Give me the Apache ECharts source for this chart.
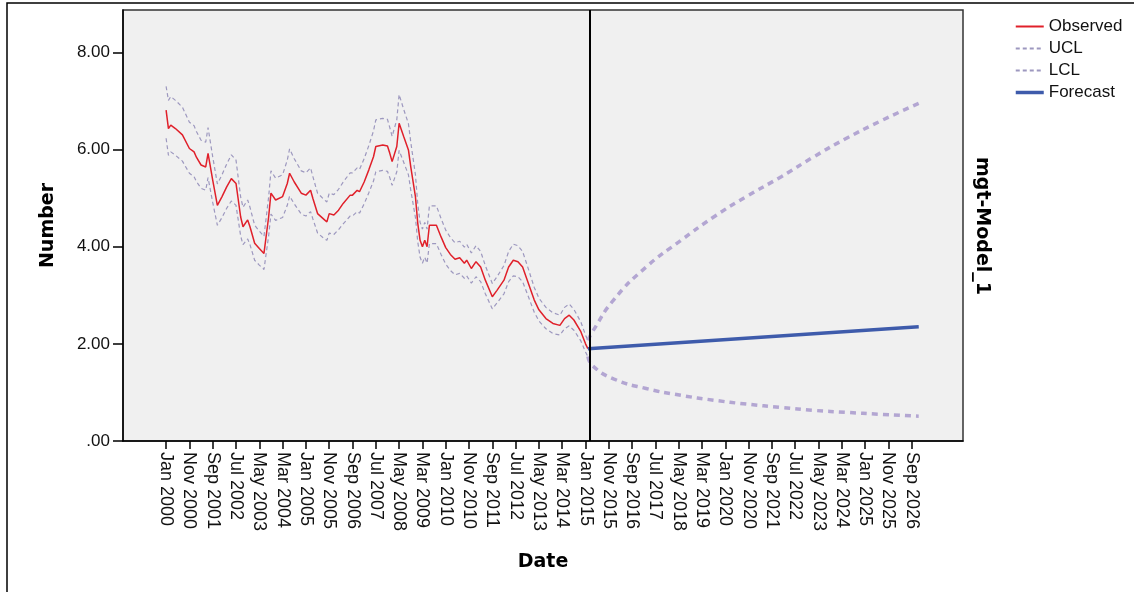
<!DOCTYPE html>
<html>
<head>
<meta charset="utf-8">
<script src="https://cdn.jsdelivr.net/npm/echarts@6/dist/echarts.min.js"></script>
<style>
  html, body { margin: 0; padding: 0; background: #fff; }
  #main { width: 1134px; height: 592px; }
</style>
</head>
<body>
<div id="main"></div>
<script>
// months counted from Jan 2000 (0 = Jan 2000)
var obsMonths = [0, 1, 2, 4, 7, 10, 12, 13, 15, 17, 18, 20, 22, 24, 26, 28, 30, 32, 33, 35, 36, 38, 40, 42, 44, 45, 47, 50, 52, 53, 55, 58,
  60, 62, 63, 65, 68, 69, 70, 72, 74, 76, 79, 80, 82, 83, 85, 87, 89, 90, 93, 95, 96, 97, 99, 100, 102, 104, 105, 107, 108, 109,
  110, 111, 112, 113, 116, 118, 120, 122, 124, 126, 128, 129, 131, 133, 135, 137, 140, 142, 145, 147, 149, 151, 153, 155, 158,
  160, 163, 166, 169, 171, 173, 175, 178, 180, 181];
var obsValues = [6.81, 6.43, 6.50, 6.43, 6.30, 6.02, 5.95, 5.84, 5.68, 5.64, 5.92, 5.37, 4.85, 5.03, 5.23, 5.40, 5.30, 4.61, 4.41, 4.55, 4.41, 4.07, 3.96, 3.86, 4.61, 5.10, 4.96, 5.03, 5.30, 5.51, 5.33, 5.10,
  5.06, 5.16, 4.99, 4.68, 4.55, 4.51, 4.68, 4.65, 4.75, 4.89, 5.06, 5.06, 5.16, 5.13, 5.33, 5.58, 5.85, 6.06, 6.09, 6.07, 5.92, 5.75, 6.06, 6.54, 6.26, 5.99, 5.64, 5.03, 4.48, 4.13,
  4.00, 4.13, 4.00, 4.44, 4.44, 4.20, 3.98, 3.84, 3.74, 3.77, 3.66, 3.72, 3.55, 3.69, 3.58, 3.31, 2.97, 3.10, 3.31, 3.58, 3.72, 3.69, 3.58, 3.31, 2.90,
  2.70, 2.52, 2.42, 2.38, 2.52, 2.59, 2.49, 2.25, 2.00, 1.90];
var uclValues = [7.30, 7.01, 7.09, 7.01, 6.87, 6.56, 6.49, 6.37, 6.19, 6.15, 6.45, 5.85, 5.29, 5.48, 5.70, 5.89, 5.78, 5.02, 4.81, 4.96, 4.81, 4.44, 4.32, 4.21, 5.02, 5.56, 5.41, 5.48, 5.78, 6.01, 5.81, 5.56,
  5.52, 5.62, 5.44, 5.10, 4.96, 4.92, 5.10, 5.07, 5.18, 5.33, 5.52, 5.52, 5.62, 5.59, 5.81, 6.08, 6.38, 6.61, 6.64, 6.62, 6.45, 6.27, 6.61, 7.13, 6.82, 6.53, 6.15, 5.48, 4.88, 4.50,
  4.36, 4.50, 4.36, 4.84, 4.84, 4.58, 4.34, 4.19, 4.08, 4.11, 3.99, 4.05, 3.87, 4.02, 3.90, 3.61, 3.24, 3.38, 3.61, 3.90, 4.05, 4.02, 3.90, 3.61, 3.16,
  2.94, 2.75, 2.64, 2.59, 2.75, 2.82, 2.71, 2.45, 2.18, 2.07];
var lclValues = [6.23, 5.88, 5.95, 5.88, 5.76, 5.51, 5.44, 5.34, 5.20, 5.16, 5.42, 4.91, 4.44, 4.60, 4.79, 4.94, 4.85, 4.22, 4.04, 4.16, 4.04, 3.72, 3.62, 3.53, 4.22, 4.67, 4.54, 4.60, 4.85, 5.04, 4.88, 4.67,
  4.63, 4.72, 4.57, 4.28, 4.16, 4.13, 4.28, 4.25, 4.35, 4.47, 4.63, 4.63, 4.72, 4.69, 4.88, 5.11, 5.35, 5.54, 5.57, 5.55, 5.42, 5.26, 5.54, 5.98, 5.73, 5.48, 5.16, 4.60, 4.10, 3.78,
  3.66, 3.78, 3.66, 4.06, 4.06, 3.84, 3.64, 3.51, 3.42, 3.45, 3.35, 3.40, 3.25, 3.38, 3.28, 3.03, 2.72, 2.84, 3.03, 3.28, 3.40, 3.38, 3.28, 3.03, 2.65,
  2.47, 2.31, 2.21, 2.18, 2.31, 2.37, 2.28, 2.06, 1.83, 1.74];

var fcMonths = [181, 323];
var fcValues = [1.90, 2.35];

var bandMonths = [181, 183, 192, 206, 221, 235, 249, 264, 278, 292, 306, 323];
var uclForecast = [2.07, 2.25, 2.90, 3.58, 4.13, 4.61, 5.03, 5.44, 5.85, 6.23, 6.57, 6.95];
var lclForecast = [1.74, 1.55, 1.28, 1.08, 0.94, 0.84, 0.76, 0.69, 0.63, 0.59, 0.55, 0.51];

var tickMonths = [];
for (var t = 0; t <= 320; t += 10) tickMonths.push(t);
var yTicks = [0, 2, 4, 6, 8];
var monthNames = ['Jan', 'Feb', 'Mar', 'Apr', 'May', 'Jun', 'Jul', 'Aug', 'Sep', 'Oct', 'Nov', 'Dec'];

function pairs(xs, ys) {
  var out = [];
  for (var i = 0; i < xs.length; i++) out.push([xs[i], ys[i]]);
  return out;
}

var chart = echarts.init(document.getElementById('main'));
var font = 'Liberation Sans, Arial, sans-serif';

chart.setOption({
  animation: false,
  backgroundColor: '#fff',
  graphic: [
    { type: 'rect', shape: { x: 7, y: 3, width: 1140, height: 600 },
      style: { fill: 'none', stroke: '#000', lineWidth: 1.5 }, z: -1 },
    { type: 'text', x: 982, y: 226, rotation: -Math.PI / 2,
      style: { text: 'mgt-Model_1', font: 'bold 19px DejaVu Sans', fill: '#000',
               align: 'center', verticalAlign: 'middle' } }
  ],
  legend: {
    data: [
      { name: 'Observed' },
      { name: 'UCL' },
      { name: 'LCL' },
      { name: 'Forecast', lineStyle: { width: 3.5 } }
    ],
    orient: 'vertical',
    left: 1009, top: 13,
    itemWidth: 28, itemHeight: 14, itemGap: 5,
    itemStyle: { opacity: 0 },
    textStyle: { fontFamily: font, fontSize: 17, color: '#111' }
  },
  grid: {
    left: 123, top: 10, width: 840, height: 431,
    show: true, backgroundColor: '#f0f0f0', borderColor: '#333', borderWidth: 1.5
  },
  xAxis: {
    type: 'value', min: -18.5, max: 342,
    name: 'Date', nameLocation: 'middle', nameGap: 112,
    nameTextStyle: { fontFamily: 'DejaVu Sans', fontWeight: 'bold', fontSize: 19, color: '#000' },
    axisLine: { show: true, onZero: false, lineStyle: { color: '#000', width: 1.5 } },
    axisTick: { show: true, customValues: tickMonths, length: 8, lineStyle: { color: '#000', width: 1.5 } },
    axisLabel: {
      customValues: tickMonths, rotate: -90, margin: 11,
      fontFamily: font, fontSize: 18, color: '#111',
      formatter: function (v) {
        return monthNames[v % 12] + ' ' + (2000 + Math.floor(v / 12));
      }
    },
    splitLine: { show: false }
  },
  yAxis: {
    type: 'value', min: 0, max: 8.87,
    name: 'Number', nameLocation: 'middle', nameGap: 65,
    nameTextStyle: { fontFamily: 'DejaVu Sans', fontWeight: 'bold', fontSize: 19, color: '#000' },
    axisLine: { show: true, onZero: false, lineStyle: { color: '#000', width: 1.5 } },
    axisTick: { show: true, customValues: yTicks, length: 10, lineStyle: { color: '#000', width: 1.5 } },
    axisLabel: {
      customValues: yTicks, margin: 13,
      fontFamily: font, fontSize: 17, color: '#111',
      formatter: function (v) { return v === 0 ? '.00' : v.toFixed(2); }
    },
    splitLine: { show: false }
  },
  series: [
    { name: 'UCL', type: 'line', data: pairs(obsMonths, uclValues), symbol: 'none',
      lineStyle: { color: '#9d98bf', width: 1.2, type: [4, 3] }, itemStyle: { color: '#9d98bf' } },
    { name: 'LCL', type: 'line', data: pairs(obsMonths, lclValues), symbol: 'none',
      lineStyle: { color: '#9d98bf', width: 1.2, type: [4, 3] }, itemStyle: { color: '#9d98bf' } },
    { name: 'UCL forecast', type: 'line', data: pairs(bandMonths, uclForecast), symbol: 'none', smooth: true,
      lineStyle: { color: '#b3a6d2', width: 3.5, type: [6, 5] } },
    { name: 'LCL forecast', type: 'line', data: pairs(bandMonths, lclForecast), symbol: 'none', smooth: true,
      lineStyle: { color: '#b3a6d2', width: 3.5, type: [6, 5] } },
    { name: 'Observed', type: 'line', data: pairs(obsMonths, obsValues), symbol: 'none',
      lineStyle: { color: '#e0202a', width: 1.5 }, itemStyle: { color: '#e0202a' } },
    { name: 'Forecast', type: 'line', data: pairs(fcMonths, fcValues), symbol: 'none',
      lineStyle: { color: '#3e5bab', width: 3.5 }, itemStyle: { color: '#3e5bab' },
      markLine: {
        silent: true, symbol: 'none', label: { show: false },
        lineStyle: { color: '#000', width: 2, type: 'solid' },
        data: [{ xAxis: 182 }]
      } }
  ]
});
</script>
</body>
</html>
